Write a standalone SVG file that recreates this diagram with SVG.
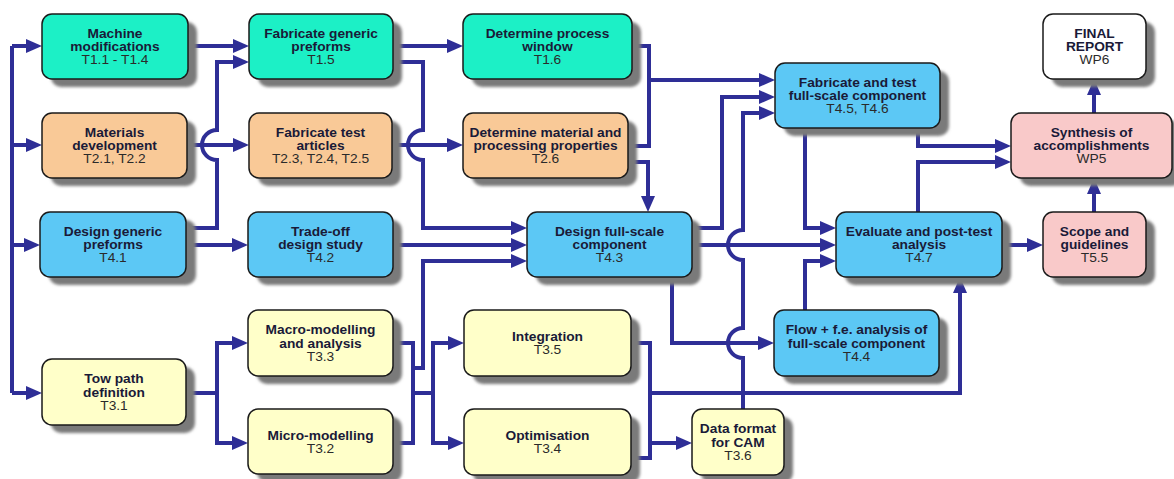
<svg xmlns="http://www.w3.org/2000/svg" width="1174" height="479" viewBox="0 0 1174 479">
<defs>
<style>
.sh{fill:#7a7a7a;filter:url(#blur)}
.bx{stroke:#1a1a1a;stroke-width:1.5}
.teal{fill:#1cf0c6}
.org{fill:#f9c997}
.blue{fill:#5cc8f5}
.yel{fill:#ffffc9}
.pink{fill:#f9c9c9}
.wht{fill:#ffffff}
text{font-family:"Liberation Sans",Arial,sans-serif;font-size:12.5px;text-anchor:middle}
.b{font-weight:bold;fill:#1a1a38}
.r{font-weight:normal;fill:#2a2a2a}
.c{fill:none;stroke:#2e2e96;stroke-width:4}
.a{marker-end:url(#ah)}
</style>
<filter id="blur" x="-10%" y="-10%" width="120%" height="130%"><feGaussianBlur stdDeviation="1.6"/></filter>
<marker id="ah" markerUnits="userSpaceOnUse" markerWidth="18" markerHeight="16" refX="8" refY="7" orient="auto"><path d="M0,0 L16,7 L0,14 z" fill="#2e2e96"/></marker>
</defs>
<rect width="1174" height="479" fill="#ffffff"/>

<g id="connectors">
<path class="c" d="M12,46 V393"/>
<path class="c a" d="M12,46 H34"/>
<path class="c a" d="M12,145 H34"/>
<path class="c a" d="M12,245 H32"/>
<path class="c a" d="M12,393 H34"/>
<path class="c a" d="M188,46 H241"/>
<path class="c a" d="M186,228 H217 V160 A15,15 0 0 1 217,130 V62 H241"/>
<path class="c a" d="M187,145 H241"/>
<path class="c a" d="M393,46 H455"/>
<path class="c a" d="M393,62 H423 V130 A15,15 0 0 0 423,160 V228 H519"/>
<path class="c a" d="M392,145 H455"/>
<path class="c a" d="M186,245 H240"/>
<path class="c a" d="M393,245 H519"/>
<path class="c" d="M632,46 H649 V146 H628"/>
<path class="c a" d="M649,80 H767"/>
<path class="c a" d="M628,162 H648 V204"/>
<path class="c a" d="M692,228 H722 V97 H767"/>
<path class="c a" d="M743,409 V358 A15,15 0 0 1 743,328 V260 A15,15 0 0 1 743,230 V113 H767"/>
<path class="c a" d="M692,245 H828"/>
<path class="c a" d="M672,277 V343 H766"/>
<path class="c a" d="M805,128 V228 H828"/>
<path class="c a" d="M918,128 V146 H1003"/>
<path class="c a" d="M918,212 V162 H1003"/>
<path class="c a" d="M805,310 V261 H828"/>
<path class="c a" d="M1002,245 H1035"/>
<path class="c a" d="M1094,212 V186"/>
<path class="c a" d="M1094,113 V87"/>
<path class="c" d="M186,393 H217"/>
<path class="c a" d="M217,393 V343 H240"/>
<path class="c a" d="M217,393 V443 H240"/>
<path class="c" d="M393,343 H413 V443 H393"/>
<path class="c a" d="M413,368 H423 V261 H519"/>
<path class="c a" d="M413,393 H433 V343 H456"/>
<path class="c a" d="M433,393 V443 H456"/>
<path class="c" d="M631,343 H650 V458 H631"/>
<path class="c a" d="M650,393 H960 V285"/>
<path class="c a" d="M650,443 H684"/>
</g>

<g id="n_mm"><rect class="sh" x="51" y="22" width="146" height="65" rx="10"/><rect class="bx teal" x="42" y="14" width="146" height="65" rx="10"/>
<text transform="translate(115,46.5) scale(1.1,1)"><tspan class="b" x="0" y="-9">Machine</tspan><tspan class="b" x="0" y="4.5">modifications</tspan><tspan class="r" x="0" y="18">T1.1 - T1.4</tspan></text></g>

<g id="n_fgp"><rect class="sh" x="258" y="22" width="144" height="65" rx="10"/><rect class="bx teal" x="249" y="14" width="144" height="65" rx="10"/>
<text transform="translate(321,46.5) scale(1.1,1)"><tspan class="b" x="0" y="-9">Fabricate generic</tspan><tspan class="b" x="0" y="4.5">preforms</tspan><tspan class="r" x="0" y="18">T1.5</tspan></text></g>

<g id="n_dpw"><rect class="sh" x="472" y="22" width="169" height="65" rx="10"/><rect class="bx teal" x="463" y="14" width="169" height="65" rx="10"/>
<text transform="translate(547.5,46.5) scale(1.1,1)"><tspan class="b" x="0" y="-9">Determine process</tspan><tspan class="b" x="0" y="4.5">window</tspan><tspan class="r" x="0" y="18">T1.6</tspan></text></g>

<g id="n_fts"><rect class="sh" x="784" y="71" width="165" height="65" rx="10"/><rect class="bx blue" x="775" y="63" width="165" height="65" rx="10"/>
<text transform="translate(857.5,95.5) scale(1.1,1)"><tspan class="b" x="0" y="-9">Fabricate and test</tspan><tspan class="b" x="0" y="4.5">full-scale component</tspan><tspan class="r" x="0" y="18">T4.5, T4.6</tspan></text></g>

<g id="n_fr"><rect class="sh" x="1052" y="22" width="103" height="65" rx="10"/><rect class="bx wht" x="1043" y="14" width="103" height="65" rx="10"/>
<text transform="translate(1094.5,46.5) scale(1.1,1)"><tspan class="b" x="0" y="-9">FINAL</tspan><tspan class="b" x="0" y="4.5">REPORT</tspan><tspan class="r" x="0" y="18">WP6</tspan></text></g>

<g id="n_md"><rect class="sh" x="51" y="121" width="145" height="65" rx="10"/><rect class="bx org" x="42" y="113" width="145" height="65" rx="10"/>
<text transform="translate(114.5,145.5) scale(1.1,1)"><tspan class="b" x="0" y="-9">Materials</tspan><tspan class="b" x="0" y="4.5">development</tspan><tspan class="r" x="0" y="18">T2.1, T2.2</tspan></text></g>

<g id="n_fta"><rect class="sh" x="258" y="121" width="143" height="65" rx="10"/><rect class="bx org" x="249" y="113" width="143" height="65" rx="10"/>
<text transform="translate(320.5,145.5) scale(1.1,1)"><tspan class="b" x="0" y="-9">Fabricate test</tspan><tspan class="b" x="0" y="4.5">articles</tspan><tspan class="r" x="0" y="18">T2.3, T2.4, T2.5</tspan></text></g>

<g id="n_dmp"><rect class="sh" x="472" y="121" width="165" height="65" rx="10"/><rect class="bx org" x="463" y="113" width="165" height="65" rx="10"/>
<text transform="translate(545.5,145.5) scale(1.1,1)"><tspan class="b" x="0" y="-9">Determine material and</tspan><tspan class="b" x="0" y="4.5">processing properties</tspan><tspan class="r" x="0" y="18">T2.6</tspan></text></g>

<g id="n_syn"><rect class="sh" x="1020" y="121" width="162" height="65" rx="10"/><rect class="bx pink" x="1011" y="113" width="161" height="65" rx="10"/>
<text transform="translate(1091.5,145.5) scale(1.1,1)"><tspan class="b" x="0" y="-9">Synthesis of</tspan><tspan class="b" x="0" y="4.5">accomplishments</tspan><tspan class="r" x="0" y="18">WP5</tspan></text></g>

<g id="n_dgp"><rect class="sh" x="49" y="220" width="147" height="65" rx="10"/><rect class="bx blue" x="40" y="212" width="146" height="65" rx="10"/>
<text transform="translate(113,244.5) scale(1.1,1)"><tspan class="b" x="0" y="-9">Design generic</tspan><tspan class="b" x="0" y="4.5">preforms</tspan><tspan class="r" x="0" y="18">T4.1</tspan></text></g>

<g id="n_tds"><rect class="sh" x="257" y="220" width="145" height="65" rx="10"/><rect class="bx blue" x="248" y="212" width="145" height="65" rx="10"/>
<text transform="translate(320.5,244.5) scale(1.1,1)"><tspan class="b" x="0" y="-9">Trade-off</tspan><tspan class="b" x="0" y="4.5">design study</tspan><tspan class="r" x="0" y="18">T4.2</tspan></text></g>

<g id="n_dfs"><rect class="sh" x="536" y="220" width="165" height="65" rx="10"/><rect class="bx blue" x="527" y="212" width="165" height="65" rx="10"/>
<text transform="translate(609.5,244.5) scale(1.1,1)"><tspan class="b" x="0" y="-9">Design full-scale</tspan><tspan class="b" x="0" y="4.5">component</tspan><tspan class="r" x="0" y="18">T4.3</tspan></text></g>

<g id="n_eval"><rect class="sh" x="845" y="220" width="166" height="65" rx="10"/><rect class="bx blue" x="836" y="212" width="166" height="65" rx="10"/>
<text transform="translate(919,244.5) scale(1.1,1)"><tspan class="b" x="0" y="-9">Evaluate and post-test</tspan><tspan class="b" x="0" y="4.5">analysis</tspan><tspan class="r" x="0" y="18">T4.7</tspan></text></g>

<g id="n_scope"><rect class="sh" x="1052" y="220" width="103" height="65" rx="10"/><rect class="bx pink" x="1043" y="212" width="103" height="65" rx="10"/>
<text transform="translate(1094.5,244.5) scale(1.1,1)"><tspan class="b" x="0" y="-9">Scope and</tspan><tspan class="b" x="0" y="4.5">guidelines</tspan><tspan class="r" x="0" y="18">T5.5</tspan></text></g>

<g id="n_macro"><rect class="sh" x="257" y="318" width="145" height="66" rx="10"/><rect class="bx yel" x="248" y="310" width="145" height="66" rx="10"/>
<text transform="translate(320.5,343) scale(1.1,1)"><tspan class="b" x="0" y="-9">Macro-modelling</tspan><tspan class="b" x="0" y="4.5">and analysis</tspan><tspan class="r" x="0" y="18">T3.3</tspan></text></g>

<g id="n_int"><rect class="sh" x="473" y="318" width="167" height="66" rx="10"/><rect class="bx yel" x="464" y="310" width="167" height="66" rx="10"/>
<text transform="translate(547.5,343) scale(1.1,1)"><tspan class="b" x="0" y="-2">Integration</tspan><tspan class="r" x="0" y="11.5">T3.5</tspan></text></g>

<g id="n_flow"><rect class="sh" x="783" y="318" width="165" height="66" rx="10"/><rect class="bx blue" x="774" y="310" width="165" height="66" rx="10"/>
<text transform="translate(856.5,343) scale(1.1,1)"><tspan class="b" x="0" y="-9">Flow + f.e. analysis of</tspan><tspan class="b" x="0" y="4.5">full-scale component</tspan><tspan class="r" x="0" y="18">T4.4</tspan></text></g>

<g id="n_tow"><rect class="sh" x="51" y="367" width="144" height="66" rx="10"/><rect class="bx yel" x="42" y="359" width="144" height="66" rx="10"/>
<text transform="translate(114,392) scale(1.1,1)"><tspan class="b" x="0" y="-9">Tow path</tspan><tspan class="b" x="0" y="4.5">definition</tspan><tspan class="r" x="0" y="18">T3.1</tspan></text></g>

<g id="n_micro"><rect class="sh" x="257" y="417" width="145" height="65" rx="10"/><rect class="bx yel" x="248" y="409" width="145" height="65" rx="10"/>
<text transform="translate(320.5,441.5) scale(1.1,1)"><tspan class="b" x="0" y="-2">Micro-modelling</tspan><tspan class="r" x="0" y="11.5">T3.2</tspan></text></g>

<g id="n_opt"><rect class="sh" x="473" y="417" width="167" height="66" rx="10"/><rect class="bx yel" x="464" y="409" width="167" height="66" rx="10"/>
<text transform="translate(547.5,442) scale(1.1,1)"><tspan class="b" x="0" y="-2">Optimisation</tspan><tspan class="r" x="0" y="11.5">T3.4</tspan></text></g>

<g id="n_cam"><rect class="sh" x="701" y="417" width="92" height="66" rx="10"/><rect class="bx yel" x="692" y="409" width="92" height="66" rx="10"/>
<text transform="translate(738,442) scale(1.1,1)"><tspan class="b" x="0" y="-9">Data format</tspan><tspan class="b" x="0" y="4.5">for CAM</tspan><tspan class="r" x="0" y="18">T3.6</tspan></text></g>
</svg>
